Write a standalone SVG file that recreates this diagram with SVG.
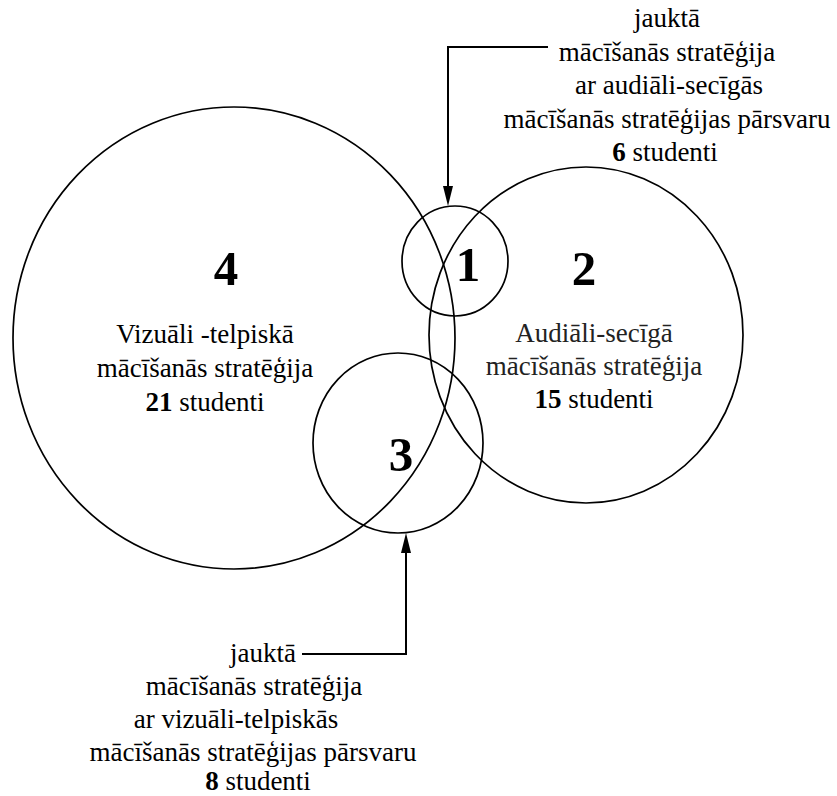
<svg xmlns="http://www.w3.org/2000/svg" width="837" height="796" viewBox="0 0 837 796">
  <style>
    .ring { fill: none; stroke: #000; stroke-width: 1.7; }
    .conn { fill: none; stroke: #000; stroke-width: 2; }
    .txt { font-family: "Liberation Serif", "Times New Roman", serif; font-size: 27px; fill: #000; text-anchor: middle; }
    .soft { fill: #222; }
    .num { font-family: "Liberation Serif", "Times New Roman", serif; font-size: 49px; font-weight: bold; fill: #000; text-anchor: middle; }
    .b { font-weight: bold; }
  </style>
  <defs>
    <marker id="arrow" viewBox="0 0 20 10" refX="14" refY="5" markerWidth="20" markerHeight="10" markerUnits="userSpaceOnUse" orient="auto">
      <path d="M0,0 L20,5 L0,10 Z" fill="#000"/>
    </marker>
  </defs>
  <rect width="837" height="796" fill="#fff"/>

  <!-- set 4: visual-spatial -->
  <g id="set4">
    <ellipse class="ring" cx="234" cy="338" rx="221" ry="231"/>
    <text class="num" x="226" y="285">4</text>
    <text class="txt" x="205" y="343">Vizuāli -telpiskā</text>
    <text class="txt" x="205" y="377">mācīšanās stratēģija</text>
    <text class="txt" x="205" y="411"><tspan class="b">21</tspan> studenti</text>
  </g>

  <!-- set 2: auditory-sequential -->
  <g id="set2">
    <ellipse class="ring" cx="586" cy="335" rx="157" ry="168"/>
    <text class="num" x="584" y="285">2</text>
    <text class="txt soft" x="594" y="342">Audiāli-secīgā</text>
    <text class="txt soft" x="594" y="375">mācīšanās stratēģija</text>
    <text class="txt" x="594" y="408"><tspan class="b">15</tspan> studenti</text>
  </g>

  <!-- set 1: mixed, auditory dominant -->
  <g id="set1">
    <ellipse class="ring" cx="455" cy="261" rx="53" ry="55"/>
    <text class="num" x="468" y="281">1</text>
  </g>

  <!-- set 3: mixed, visual dominant -->
  <g id="set3">
    <ellipse class="ring" cx="398" cy="443" rx="85" ry="90"/>
    <text class="num" x="401" y="471">3</text>
  </g>

  <!-- caption for set 1 -->
  <g id="note1">
    <text class="txt" x="667" y="27">jauktā</text>
    <text class="txt" x="667" y="60.5">mācīšanās stratēģija</text>
    <text class="txt" x="669" y="94">ar audiāli-secīgās</text>
    <text class="txt" x="667" y="127.5">mācīšanās stratēģijas pārsvaru</text>
    <text class="txt" x="665" y="161"><tspan class="b">6</tspan> studenti</text>
  </g>

  <!-- caption for set 3 -->
  <g id="note3">
    <text class="txt" x="263" y="662">jauktā</text>
    <text class="txt" x="254" y="695">mācīšanās stratēģija</text>
    <text class="txt" x="236" y="728">ar vizuāli-telpiskās</text>
    <text class="txt" x="253" y="761">mācīšanās stratēģijas pārsvaru</text>
    <text class="txt" x="258" y="790"><tspan class="b">8</tspan> studenti</text>
  </g>

  <!-- leader arrows -->
  <g id="connectors">
    <path class="conn" d="M548,47 H448 V200" marker-end="url(#arrow)"/>
    <path class="conn" d="M302,654 H406 V539" marker-end="url(#arrow)"/>
  </g>
</svg>
